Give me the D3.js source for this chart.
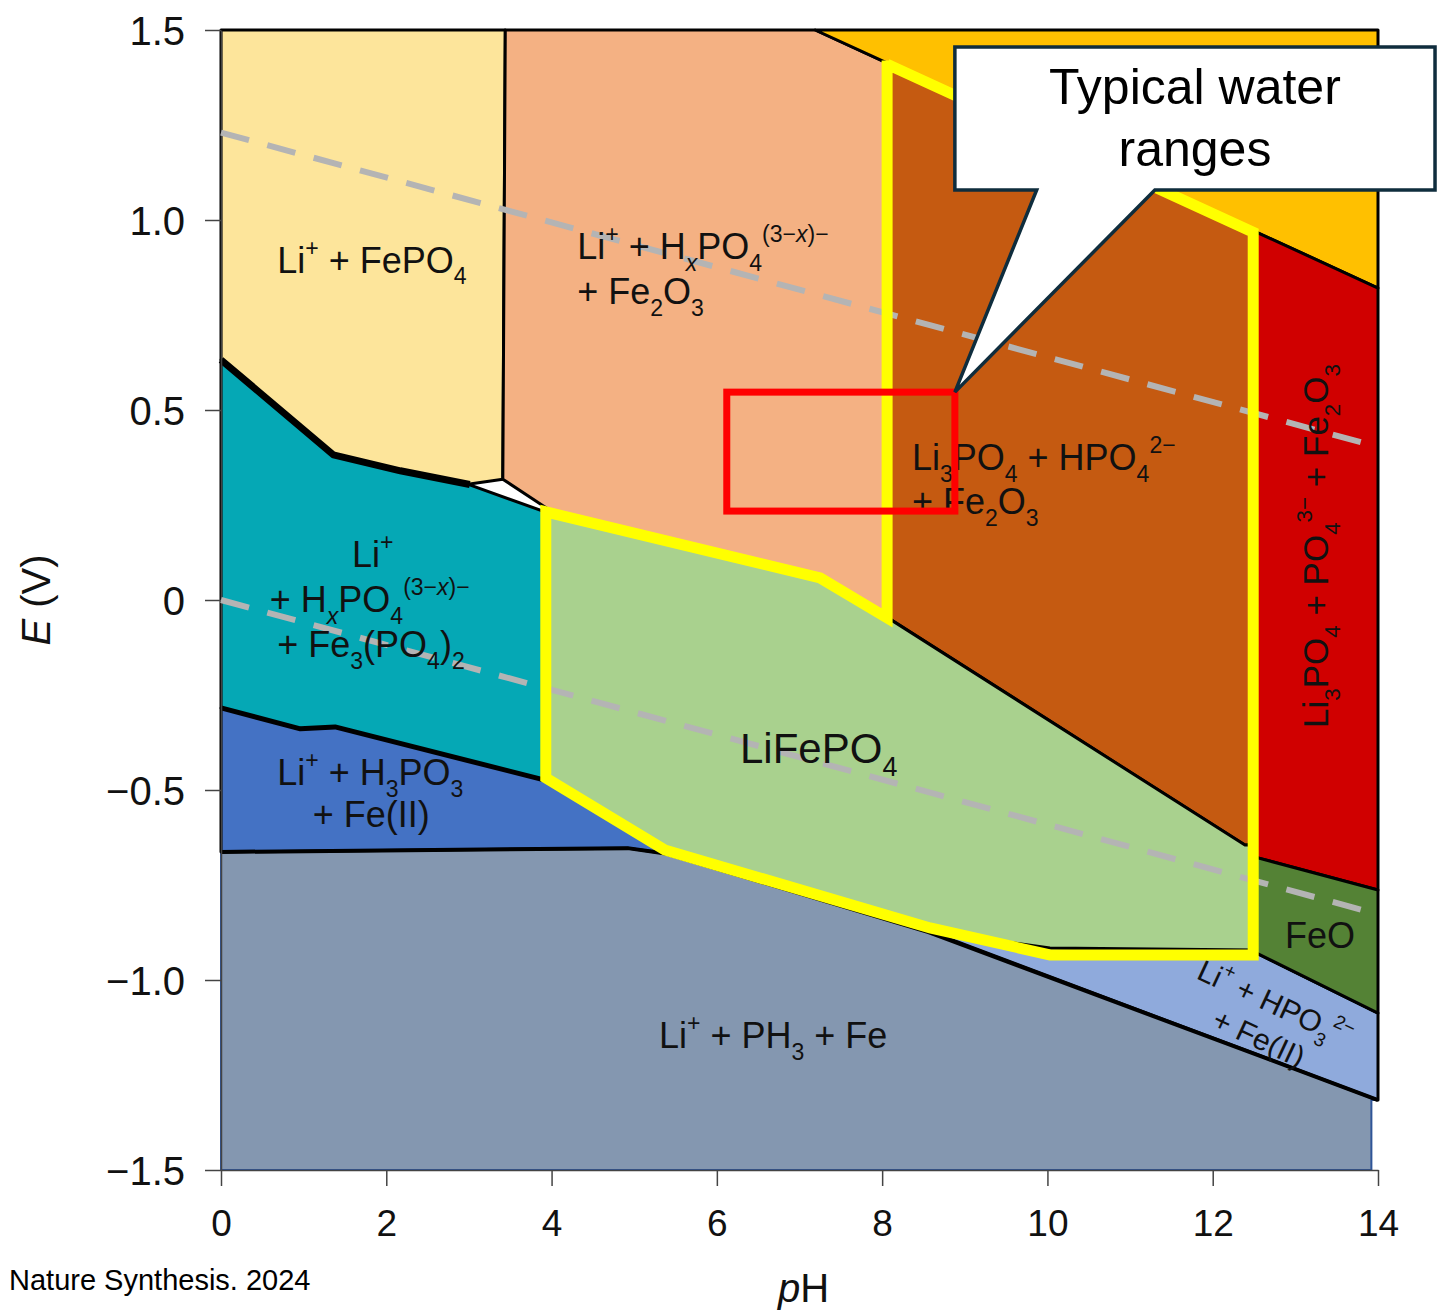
<!DOCTYPE html>
<html>
<head>
<meta charset="utf-8">
<script src="https://cdn.jsdelivr.net/npm/d3@7"></script>
<style>
  body { margin: 0; background: #fff; }
  svg { display: block; font-family: "Liberation Sans", Arial, sans-serif; }
  text { white-space: pre; }
</style>
</head>
<body>
<div id="chart"></div>
<script>
// Axis ticks
const phTicks = [0, 2, 4, 6, 8, 10, 12, 14];
const eTicks = [1.5, 1.0, 0.5, 0, -0.5, -1.0, -1.5];
const eTickLabels = ["1.5", "1.0", "0.5", "0", "\u22120.5", "\u22121.0", "\u22121.5"];

// Stability regions, vertices as [pH, E (V)]
const phosphineRegion = [[0, -0.663], [4.92, -0.653], [5.40, -0.668], [8.56, -0.874], [14, -1.316], [13.92, -1.316], [13.92, -1.5], [0, -1.5]];
const phosphiteRegion = [[8.56, -0.871], [10.03, -0.916], [12.5, -0.926], [14, -1.087], [14, -1.316]];
const h3po3Region = [[0, -0.284], [0.96, -0.339], [1.38, -0.334], [3.92, -0.474], [5.40, -0.668], [4.92, -0.653], [0, -0.663]];
const fe3po42Region = [[0, 0.632], [1.36, 0.382], [2.17, 0.338], [3.01, 0.303], [3.92, 0.232], [3.92, -0.474], [1.38, -0.334], [0.96, -0.339], [0, -0.284]];
const fePO4Region = [[0, 1.5], [3.44, 1.5], [3.41, 0.318], [3.01, 0.305], [2.17, 0.342], [1.36, 0.382], [0, 0.632]];
const hxpo4Fe2O3Region = [[3.44, 1.5], [7.19, 1.5], [8.07, 1.412], [8.07, -0.047], [7.25, 0.058], [3.96, 0.239], [3.41, 0.318]];
const topRightRegion = [[7.19, 1.5], [14, 1.5], [14, 0.821], [12.5, 0.971], [8.07, 1.412]];
const hpo4Fe2O3Region = [[8.07, 1.412], [12.5, 0.971], [12.5, -0.645], [12.39, -0.645], [8.07, -0.047]];
const po4Fe2O3Region = [[12.5, 0.971], [14, 0.821], [14, -0.763], [12.5, -0.676]];
const feORegion = [[12.5, -0.676], [14, -0.763], [14, -1.087], [12.5, -0.926]];
const liFePO4Region = [[3.92, 0.232], [7.25, 0.058], [8.07, -0.047], [12.39, -0.645], [12.5, -0.645], [12.5, -0.921], [10.03, -0.916], [8.56, -0.871], [5.40, -0.668], [3.92, -0.474]];

// heavier phase boundaries
const fePO4TealBoundary = [[0, 0.632], [1.36, 0.382], [2.17, 0.34], [3.01, 0.304]];
const tealBlueBoundary = [[0, -0.284], [0.96, -0.339], [1.38, -0.334], [3.92, -0.474]];
const greyTopBoundary = [[0, -0.663], [4.92, -0.653], [5.40, -0.668], [8.56, -0.874], [14, -1.316]];

// water stability lines
const o2Line = [[0, 1.23], [14, 0.403]];
const h2Line = [[0, 0], [14, -0.827]];

// annotations
const waterRange = [[8.06, 1.42], [8.06, -0.047], [7.25, 0.058], [3.93, 0.232], [3.93, -0.468], [5.37, -0.658], [8.58, -0.863], [10.03, -0.934], [12.49, -0.934], [12.49, 0.968], [8.06, 1.41]];
const focusBox = [[6.12, 0.547], [8.88, 0.234]];
const calloutBox = [[8.88, 1.455], [14.69, 1.079]];
const calloutBase = [9.87, 11.30];
const calloutLines = ["Typical water", "ranges"];

// region labels
const labelTexts = [
  "Li^{+} + FePO_{4}",
  "Li^{+} + H_{x}PO_{4}^{(3\u2212x)\u2212}", "+ Fe_{2}O_{3}",
  "Li^{+}", "+ H_{x}PO_{4}^{(3\u2212x)\u2212}", "+ Fe_{3}(PO_{4})_{2}",
  "Li^{+} + H_{3}PO_{3}", "+ Fe(II)",
  "LiFePO_{4}",
  "Li_{3}PO_{4} + HPO_{4}^{2\u2212}", "+ Fe_{2}O_{3}",
  "FeO",
  "Li^{+} + PH_{3} + Fe"
];
const labelAt = [
  [0.68, 0.861],
  [4.31, 0.897], [4.31, 0.779],
  [1.585, 0.087], [0.59, -0.032], [0.68, -0.15],
  [0.68, -0.487], [1.11, -0.597],
  [6.28, -0.429],
  [8.36, 0.342], [8.36, 0.226],
  [12.875, -0.916],
  [5.30, -1.179]
];
const labelSize = [36, 36, 36, 36, 36, 36, 36, 36, 42, 36, 36, 36, 36];

const verticalLabel = "Li_{3}PO_{4} + PO_{4}^{3\u2212} + Fe_{2}O_{3}";
const verticalAt = [13.40, 0.142];
const slantLabel = ["Li^{+} + HPO_{3}^{2\u2212}", "+ Fe(II)"];
const slantAt = [12.70, -1.087];

// Chart Dimensions
const W = 1438, H = 1314;
const margin = { top: 30, right: 60, bottom: 144, left: 221 };
const width = W - margin.left - margin.right;
const height = H - margin.top - margin.bottom;

const svg = d3.select("#chart")
    .append("svg")
    .attr("width", W)
    .attr("height", H);

const g = svg.append("g")
    .attr("transform", `translate(${margin.left},${margin.top})`);

const x = d3.scaleLinear().domain([0, 14]).range([0, width]);
const y = d3.scaleLinear().domain([-1.5, 1.5]).range([height, 0]);

const line = d3.line().x(d => x(d[0])).y(d => y(d[1]));

// Regions
const regions = [
    { pts: phosphineRegion, fill: "#8497B0", stroke: "#2F5597", sw: 2 },
    { pts: phosphiteRegion, fill: "#8FAADC", stroke: "#000", sw: 3 },
    { pts: h3po3Region, fill: "#4472C4", stroke: "#000", sw: 3 },
    { pts: fe3po42Region, fill: "#05A8B5", stroke: "#000", sw: 3 },
    { pts: fePO4Region, fill: "#FDE59B", stroke: "#000", sw: 3 },
    { pts: hxpo4Fe2O3Region, fill: "#F4B183", stroke: "#000", sw: 3 },
    { pts: topRightRegion, fill: "#FFC000", stroke: "#000", sw: 3 },
    { pts: hpo4Fe2O3Region, fill: "#C55A11", stroke: "#000", sw: 3 },
    { pts: po4Fe2O3Region, fill: "#D00000", stroke: "#000", sw: 3 },
    { pts: feORegion, fill: "#548235", stroke: "#000", sw: 3 },
    { pts: liFePO4Region, fill: "#A9D18E", stroke: "#000", sw: 3 }
];

g.selectAll(".region")
    .data(regions)
    .enter()
    .append("path")
    .attr("class", "region")
    .attr("d", d => line(d.pts) + "Z")
    .attr("fill", d => d.fill)
    .attr("stroke", d => d.stroke)
    .attr("stroke-width", d => d.sw)
    .attr("stroke-linejoin", "round");

g.selectAll(".bound")
    .data([[fePO4TealBoundary, 7], [tealBlueBoundary, 5], [greyTopBoundary, 4]])
    .enter()
    .append("path")
    .attr("class", "bound")
    .attr("d", d => line(d[0]))
    .attr("fill", "none")
    .attr("stroke", "#000")
    .attr("stroke-width", d => d[1])
    .attr("stroke-linejoin", "round");

// Axes
const font = '"Liberation Sans", Arial, sans-serif';

const yAxis = g.append("g")
    .call(d3.axisLeft(y).tickValues(eTicks).tickFormat((d, i) => eTickLabels[i])
        .tickSize(16).tickPadding(20).tickSizeOuter(0))
    .attr("font-size", 40)
    .attr("font-family", font);
yAxis.selectAll("text").attr("fill", "#111").attr("dy", "0.36em");

const xAxis = g.append("g")
    .attr("transform", `translate(0,${height})`)
    .call(d3.axisBottom(x).tickValues(phTicks).tickSize(16).tickPadding(24).tickSizeOuter(0))
    .attr("font-size", 37)
    .attr("font-family", font);
xAxis.selectAll("text").attr("fill", "#111");

[yAxis, xAxis].forEach(a => {
    a.selectAll("line").attr("stroke", "#444").attr("stroke-width", 1.5);
    a.select(".domain").attr("stroke", "#444").attr("stroke-width", 1.5);
});

// Water lines
g.selectAll(".water")
    .data([o2Line, h2Line])
    .enter()
    .append("path")
    .attr("class", "water")
    .attr("d", line)
    .attr("fill", "none")
    .attr("stroke", "#B4B4B4")
    .attr("stroke-width", 6)
    .attr("stroke-dasharray", "29 19");

// rich text: _{sub} and ^{sup}, x inside sub/sup in italics
function addRich(sel, str, size) {
    const parts = str.match(/[_^]\{[^}]*\}|[^_^]+/g);
    let shift = 0;
    parts.forEach(p => {
        let off = 0, fs = size, txt = p;
        if (p[0] === "_") { off = size * 0.32; fs = size * 0.64; txt = p.slice(2, -1); }
        if (p[0] === "^") { off = -size * 0.48; fs = size * 0.64; txt = p.slice(2, -1); }
        const ts = sel.append("tspan").attr("font-size", fs).attr("dy", off - shift);
        txt.split(/(x)/).filter(s => s.length).forEach(s => {
            ts.append("tspan")
                .attr("font-style", s === "x" && off !== 0 ? "italic" : null)
                .text(s);
        });
        shift = off;
    });
}

// Region labels
labelTexts.forEach((t, i) => {
    const el = g.append("text")
        .attr("x", x(labelAt[i][0]))
        .attr("y", y(labelAt[i][1]))
        .attr("font-size", labelSize[i])
        .attr("fill", "#111");
    addRich(el, t, labelSize[i]);
});

const vl = g.append("text")
    .attr("transform", `translate(${x(verticalAt[0])},${y(verticalAt[1])}) rotate(-90)`)
    .attr("text-anchor", "middle")
    .attr("font-size", 35)
    .attr("fill", "#111");
addRich(vl, verticalLabel, 35);

const sg = g.append("g")
    .attr("transform", `translate(${x(slantAt[0])},${y(slantAt[1])}) rotate(25)`);
slantLabel.forEach((t, i) => {
    const el = sg.append("text")
        .attr("y", i * 38)
        .attr("text-anchor", "middle")
        .attr("font-size", 30)
        .attr("fill", "#111");
    addRich(el, t, 30);
});

// Typical water range outline
g.append("path")
    .attr("d", line(waterRange) + "Z")
    .attr("fill", "none")
    .attr("stroke", "#FFFF00")
    .attr("stroke-width", 11)
    .attr("stroke-linejoin", "miter");

g.append("rect")
    .attr("x", x(focusBox[0][0]))
    .attr("y", y(focusBox[0][1]))
    .attr("width", x(focusBox[1][0]) - x(focusBox[0][0]))
    .attr("height", y(focusBox[1][1]) - y(focusBox[0][1]))
    .attr("fill", "none")
    .attr("stroke", "#FF0000")
    .attr("stroke-width", 7);

// Callout
const bx0 = x(calloutBox[0][0]), bx1 = x(calloutBox[1][0]);
const by0 = y(calloutBox[0][1]), by1 = y(calloutBox[1][1]);
const tipX = x(focusBox[1][0]), tipY = y(focusBox[0][1]);
g.append("path")
    .attr("d", `M${bx0},${by0}H${bx1}V${by1}H${x(calloutBase[1])}L${tipX},${tipY}L${x(calloutBase[0])},${by1}H${bx0}Z`)
    .attr("fill", "#fff")
    .attr("stroke", "#0F2D3D")
    .attr("stroke-width", 3.5)
    .attr("stroke-linejoin", "miter");

g.selectAll(".callout-text")
    .data(calloutLines)
    .enter()
    .append("text")
    .attr("class", "callout-text")
    .attr("x", (bx0 + bx1) / 2)
    .attr("y", (d, i) => by0 + 57 + i * 62)
    .attr("text-anchor", "middle")
    .attr("font-size", 50)
    .attr("fill", "#000")
    .text(d => d);

// Axis titles
const eTitle = svg.append("text")
    .attr("transform", "translate(50,600) rotate(-90)")
    .attr("text-anchor", "middle")
    .attr("font-size", 40)
    .attr("fill", "#111");
eTitle.append("tspan").attr("font-style", "italic").text("E");
eTitle.append("tspan").text(" (V)");

const phTitle = svg.append("text")
    .attr("x", margin.left + x(7.05))
    .attr("y", 1302)
    .attr("text-anchor", "middle")
    .attr("font-size", 40)
    .attr("fill", "#111");
phTitle.append("tspan").attr("font-style", "italic").text("p");
phTitle.append("tspan").text("H");

svg.append("text")
    .attr("x", 9)
    .attr("y", 1290)
    .attr("font-size", 29)
    .attr("fill", "#000")
    .text("Nature Synthesis. 2024");
</script>
</body>
</html>
